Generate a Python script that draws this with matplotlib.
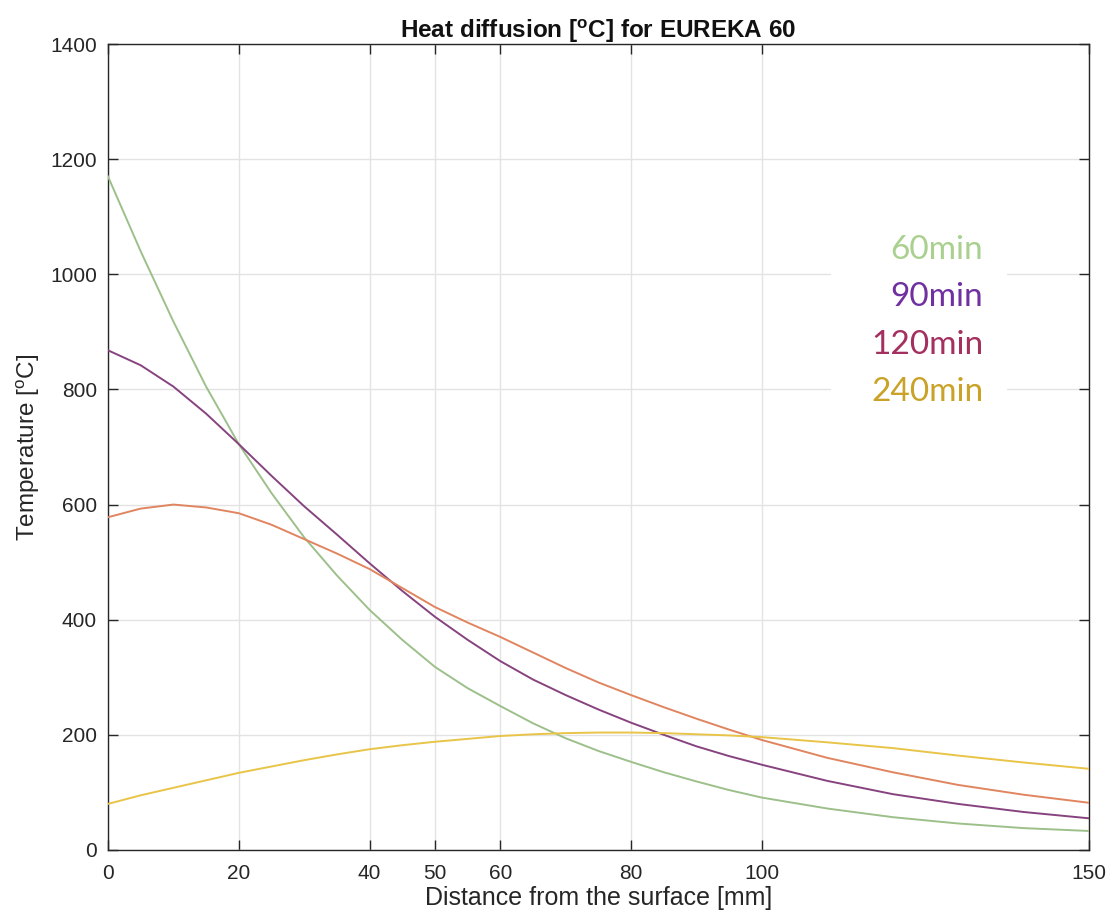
import matplotlib
matplotlib.use("Agg")
import matplotlib.pyplot as plt
from matplotlib.patches import Rectangle

plt.rcParams['font.family'] = ['Liberation Sans', 'DejaVu Sans']
plt.rcParams['mathtext.default'] = 'regular'

# distance from the surface [mm]
dist = [0, 5, 10, 15, 20, 25, 30, 35, 40, 45, 50, 55, 60, 65, 70, 75, 80,
        85, 90, 95, 100, 110, 120, 130, 140, 150]

# temperature [C]
t_60 = [1170, 1040, 918, 805, 705, 620, 543, 477, 417, 365, 318, 281, 250,
        220, 194, 172, 153, 135, 119, 104, 91, 72, 57, 46, 38, 33]
t_90 = [868, 842, 805, 758, 705, 650, 597, 548, 498, 450, 405, 365, 328,
        296, 269, 244, 221, 200, 180, 163, 148, 120, 97, 80, 66, 55]
t_120 = [578, 593, 600, 595, 585, 565, 540, 515, 488, 455, 422, 395, 370,
         343, 316, 291, 269, 248, 228, 209, 191, 160, 135, 113, 96, 82]
t_240 = [80, 95, 108, 121, 134, 145, 156, 166, 175, 182, 188, 193, 198,
         201, 203, 204, 204, 203, 201, 199, 196, 187, 177, 164, 152, 141]

labels = ['60min', '90min', '120min', '240min']
line_colors = ['#9dc08b', '#87437f', '#e0855f', '#e8c448']
label_colors = ['#a9d08e', '#7030a0', '#a3305f', '#c9a227']

xticks = [0, 20, 40, 50, 60, 80, 100, 150]
yticks = [0, 200, 400, 600, 800, 1000, 1200, 1400]

fig = plt.figure(figsize=(11.12, 9.19), dpi=100)
ax = fig.add_axes([0.0971, 0.0751, 0.9793 - 0.0971, 0.9521 - 0.0751])

for series, c in zip([t_60, t_90, t_120, t_240], line_colors):
    ax.plot(dist, series, color=c, lw=1.4, zorder=3)

ax.set_xlim(0, 150)
ax.set_ylim(0, 1400)
ax.set_xticks(xticks)
ax.set_yticks(yticks)
ax.set_axisbelow(True)
ax.grid(True, color='#e3e3e3', lw=1.0)

dark = '#262626'
for s in ax.spines.values():
    s.set_color(dark)
    s.set_linewidth(1.0)
ax.tick_params(axis='x', direction='in', length=7, width=1.0, color=dark,
               labelcolor=dark, labelsize=15, top=True, pad=10)
ax.tick_params(axis='y', direction='in', length=7, width=1.0, color=dark,
               labelcolor=dark, labelsize=15, right=True, pad=8)

ax.set_title(r'Heat diffusion [$^{o}$C] for EUREKA 60', fontsize=17.5,
             fontweight='bold', color='#111111', pad=4)
ax.set_xlabel('Distance from the surface [mm]', fontsize=18, color=dark, labelpad=2)
ax.set_ylabel(r'Temperature [$^{o}$C]', fontsize=17.5, color=dark, labelpad=6)

# white box behind the text labels
ax.add_patch(Rectangle((110.5, 750), 27, 330, facecolor='white',
                       edgecolor='none', zorder=2))
for i, (lab, c) in enumerate(zip(labels, label_colors)):
    ax.text(133.8, 1042 - i * 82, lab, color=c, fontsize=24,
            family=['Lato', 'DejaVu Sans'], ha='right', va='center', zorder=4)

fig.savefig('out.png', dpi=100)
